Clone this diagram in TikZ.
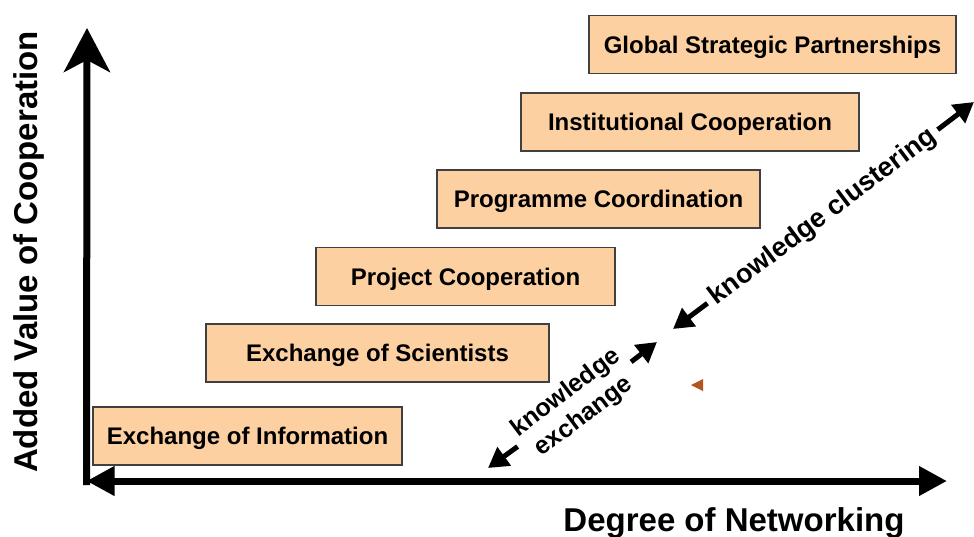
\documentclass[tikz,border=0pt]{standalone}
\usepackage{fontspec}
\setmainfont{Liberation Sans}
\usetikzlibrary{arrows.meta, positioning}
\definecolor{peach}{RGB}{253,208,162}
\definecolor{boxline}{RGB}{64,64,64}
\definecolor{rust}{RGB}{180,84,30}

\begin{document}
\begin{tikzpicture}[x=1pt, y=-1pt,
    stage/.style={draw=boxline, line width=1.2pt, fill=peach, inner sep=0pt,
                  minimum height=58pt, text height=17pt, text depth=0pt,
                  font=\fontsize{24}{28}\selectfont\bfseries},
    axisarrow/.style={line width=7pt},
    diagarrow/.style={-{Triangle[length=20pt,width=22pt]}, line width=5pt},
    axlbl/.style={font=\fontsize{33}{38}\selectfont\bfseries, anchor=base, inner sep=0pt},
    diaglbl/.style={align=center, inner sep=6pt, rotate=37},
]

% Frame: slide pixels, y runs downwards
\useasboundingbox (0,0) rectangle (974,536);

% Cooperation stages, bottom to top
\node[stage, minimum width=309pt] at (247.5,436) (info)  {Exchange of Information};
\node[stage, minimum width=343pt] at (377.5,353) (sci)   {Exchange of Scientists};
\node[stage, minimum width=299pt] at (465.5,276.5) (proj) {Project Cooperation};
\node[stage, minimum width=323pt] at (598.5,199) (prog)  {Programme Coordination};
\node[stage, minimum width=338pt] at (690,122)   (inst)  {Institutional Cooperation};
\node[stage, minimum width=367pt] at (772.5,44.5) (glob) {Global Strategic Partnerships};

% Axes
\coordinate (origin) at (86.5,481);
\coordinate (ytip)   at (87,28);
\coordinate (xtip)   at (947,481);
\draw[axisarrow, -{Stealth[length=44pt,width=46pt,inset=12pt]}] ([yshift=-4pt]origin) -- (ytip);
\draw[axisarrow, {Triangle[length=28pt,width=28pt]}-{Triangle[length=28pt,width=28pt]}] (origin) -- (xtip);

\node[axlbl, rotate=90] (ylbl) at (37,252) {Added Value of Cooperation};
\node[axlbl]            (xlbl) at (734,531) {Degree of Networking};

% Knowledge arrows
\node[diaglbl, font=\fontsize{25}{30}\selectfont\bfseries] at (575,405) (kex) {knowledge\\exchange};
\coordinate (kexlo) at (488,468);
\coordinate (kexhi) at (657,342);
\draw[diagarrow] (kex) -- (kexlo);
\draw[diagarrow] (kex) -- (kexhi);

\node[diaglbl, font=\fontsize{27}{30}\selectfont\bfseries] at (823,217) (kcl) {knowledge clustering};
\coordinate (kcllo) at (673,329);
\coordinate (kclhi) at (974,102);
\draw[diagarrow] (kcl) -- (kcllo);
\draw[diagarrow] (kcl) -- (kclhi);

% stray marker
\fill[rust] (691,385) -- (703,379) -- (703,391) -- cycle;
\end{tikzpicture}
\end{document}
